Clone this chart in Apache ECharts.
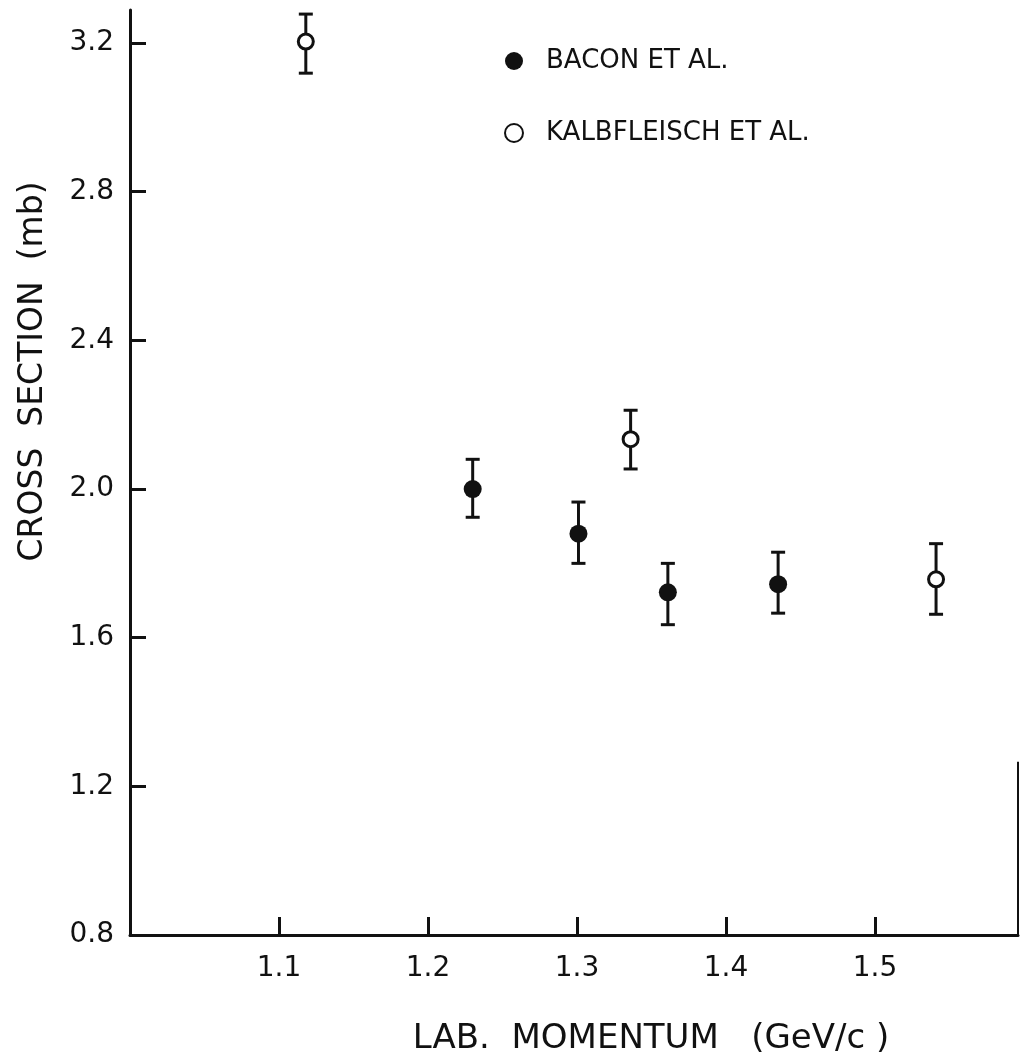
<!DOCTYPE html>
<html>
<head>
<meta charset="utf-8">
<script src="https://cdn.jsdelivr.net/npm/echarts@6/dist/echarts.min.js"></script>
<style>
html,body{margin:0;padding:0;background:#fff;}
#chart{width:1022px;height:1061px;}
</style>
</head>
<body>
<div id="chart"></div>
<script>
// ---- data ----
const baconX    = [1.230, 1.301, 1.361, 1.435];
const baconY    = [2.000, 1.880, 1.722, 1.744];
const baconLow  = [1.924, 1.800, 1.635, 1.666];
const baconHigh = [2.080, 1.965, 1.800, 1.830];

const kalbX    = [1.118, 1.336, 1.541];
const kalbY    = [3.204, 2.134, 1.757];
const kalbLow  = [3.119, 2.054, 1.663];
const kalbHigh = [3.278, 2.212, 1.853];

const xTicks = [1.1, 1.2, 1.3, 1.4, 1.5];
const yTicks = [0.8, 1.2, 1.6, 2.0, 2.4, 2.8, 3.2];
const xRange = [1.0, 1.596];
const yRange = [0.8, 3.289];
const rightFrame = [0.8, 1.266];

const seriesNames = ['BACON ET AL.', 'KALBFLEISCH ET AL.'];
const xTitle = 'LAB.  MOMENTUM   (GeV/c )';
const yTitle = 'CROSS  SECTION  (mb)';

// ---- build ----
const ink = '#111';
const font = 'DejaVu Sans';

function pts(xs, ys) { return xs.map((x, i) => [x, ys[i]]); }
function errs(xs, lo, hi) { return xs.map((x, i) => [x, lo[i], hi[i]]); }

function renderErr(params, api) {
  const x = api.value(0);
  const pLo = api.coord([x, api.value(1)]);
  const pHi = api.coord([x, api.value(2)]);
  const hw = 7;
  const st = { stroke: ink, lineWidth: 3, lineCap: 'butt' };
  return {
    type: 'group',
    children: [
      { type: 'line', shape: { x1: pHi[0], y1: pHi[1], x2: pLo[0], y2: pLo[1] }, style: st },
      { type: 'line', shape: { x1: pHi[0] - hw, y1: pHi[1], x2: pHi[0] + hw, y2: pHi[1] }, style: st },
      { type: 'line', shape: { x1: pLo[0] - hw, y1: pLo[1], x2: pLo[0] + hw, y2: pLo[1] }, style: st }
    ]
  };
}

const chart = echarts.init(document.getElementById('chart'), null, { renderer: 'canvas' });
chart.setOption({
  backgroundColor: '#fff',
  animation: false,
  textStyle: { fontFamily: font, color: ink },
  grid: { left: 130, right: 4, top: 10, bottom: 122, containLabel: false },
  legend: {
    orient: 'vertical',
    left: 499, top: 43,
    itemWidth: 54, itemHeight: 18, itemGap: 46,
    data: seriesNames,
    textStyle: { fontFamily: font, fontSize: 26, color: ink }
  },
  xAxis: {
    type: 'value', min: xRange[0], max: xRange[1],
    name: xTitle, nameLocation: 'middle', nameGap: 87,
    nameTextStyle: { fontFamily: font, fontSize: 34, color: ink, padding: [0, 0, 0, 154] },
    axisLine: { show: true, lineStyle: { color: ink, width: 3 } },
    axisTick: { show: true, inside: true, length: 18, customValues: xTicks, lineStyle: { color: ink, width: 3 } },
    axisLabel: { customValues: xTicks, margin: 20, fontFamily: font, fontSize: 28, color: ink,
      formatter: v => v.toFixed(1) },
    splitLine: { show: false }
  },
  yAxis: {
    type: 'value', min: yRange[0], max: yRange[1],
    name: yTitle, nameLocation: 'middle', nameGap: 80, nameRotate: 90,
    nameTextStyle: { fontFamily: font, fontSize: 33, color: ink, padding: [0, 0, 0, 202] },
    axisLine: { show: true, lineStyle: { color: ink, width: 3 } },
    axisTick: { show: true, inside: true, length: 16, customValues: yTicks, lineStyle: { color: ink, width: 3 } },
    axisLabel: { customValues: yTicks, margin: 16, fontFamily: font, fontSize: 28, color: ink,
      formatter: v => v.toFixed(1) },
    splitLine: { show: false }
  },
  series: [
    { type: 'custom', renderItem: renderErr, data: errs(baconX, baconLow, baconHigh),
      encode: { x: 0, y: [1, 2] }, z: 2, silent: true },
    { type: 'custom', renderItem: renderErr, data: errs(kalbX, kalbLow, kalbHigh),
      encode: { x: 0, y: [1, 2] }, z: 2, silent: true },
    { name: seriesNames[0], type: 'scatter', data: pts(baconX, baconY), symbol: 'circle', symbolSize: 18,
      itemStyle: { color: ink, opacity: 1 }, z: 5,
      markLine: { silent: true, symbol: 'none', label: { show: false },
        lineStyle: { color: ink, width: 2, type: 'solid' },
        data: [[{ coord: [xRange[1], rightFrame[0]] }, { coord: [xRange[1], rightFrame[1]] }]] } },
    { name: seriesNames[1], type: 'scatter', data: pts(kalbX, kalbY), symbol: 'circle', symbolSize: 15,
      itemStyle: { color: '#fff', borderColor: ink, borderWidth: 3, opacity: 1 }, z: 5 }
  ]
});
</script>
</body>
</html>
